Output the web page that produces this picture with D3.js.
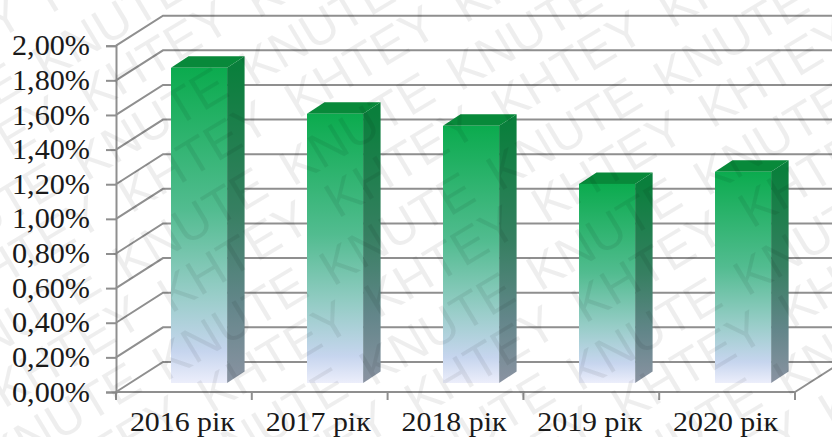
<!DOCTYPE html>
<html><head><meta charset="utf-8">
<script src="https://cdn.jsdelivr.net/npm/d3@7"></script>
<style>html,body{margin:0;padding:0;background:#fff}svg{display:block}</style>
</head><body><svg id="c" width="832" height="437"></svg>
<script>
const categories = ["2016 рік","2017 рік","2018 рік","2019 рік","2020 рік"];
const shares = [1.82,1.555,1.485,1.15,1.22];
const yTicks = [0,0.2,0.4,0.6,0.8,1.0,1.2,1.4,1.6,1.8,2.0];
const stampWords = ["KNUTE","KHTEY"];

const W=832,H=437;
const svg=d3.select("#c");
const x0=116,x1=795,yBase=392,yTop=45.7;
const wallDx=47,wallDy=-30, barInsetY=-9, sideDx=17.5, sideDy=-11.5;
const axisColor="#8f8f8f", labelFont="'Liberation Serif'";

// Band per year for the axis labels and a narrower band inside it for the columns
const xAxisBand=d3.scaleBand().domain(categories).range([x0,x1]);
const x=d3.scaleBand().domain(categories).range([130.2,811.9]).paddingInner(0.5876).paddingOuter(0.3);
const y=d3.scaleLinear().domain([0,2]).range([yBase,yTop]);
const bw=x.bandwidth();

const defs=svg.append("defs");
shares.forEach((v,i)=>{
  const top=y(v)+barInsetY, bot=yBase+barInsetY;
  const mk=(id,cs)=>{
    const g=defs.append("linearGradient").attr("id",id+i).attr("gradientUnits","userSpaceOnUse")
      .attr("x1",0).attr("x2",0).attr("y1",top).attr("y2",bot);
    cs.forEach(([o,c])=>g.append("stop").attr("offset",o).attr("stop-color",c));
  };
  mk("front",[[0,"#0bab4e"],[0.45,"#52bc90"],[0.72,"#98cdc8"],[0.9,"#c6d5ee"],[1,"#eceefb"]]);
  mk("side",[[0,"#0a7f3c"],[0.45,"#367f61"],[0.75,"#63868a"],[1,"#8a93a2"]]);
});

// Left and back walls: each gridline runs up the side wall and along the back
const grid=svg.append("g").attr("fill","none").attr("stroke",axisColor).attr("stroke-width",2);
yTicks.forEach(t=>{
  const yy=y(t);
  grid.append("path").attr("d",d3.line()([[x0,yy],[x0+wallDx,yy+wallDy],[W,yy+wallDy]]));
});
grid.append("path").attr("d",d3.line()([[x1,yBase],[x1+wallDx,yBase+wallDy]]));

// Value axis
const yAxis=d3.axisLeft(y).tickValues(yTicks).tickSizeOuter(0).tickSize(10).tickPadding(16)
  .tickFormat(d=>d.toFixed(2).replace(".",",")+"%");
const gy=svg.append("g").attr("transform",`translate(${x0},0)`).call(yAxis);
gy.selectAll(".domain,line").attr("stroke",axisColor).attr("stroke-width",2);
gy.selectAll("text").attr("font-family",labelFont).attr("font-size",28.5).attr("fill","#1a1a1a")
  .attr("textLength",78).attr("lengthAdjust","spacingAndGlyphs");

// Category axis
const xTickPos=d3.range(categories.length+1).map(i=>x0+i*xAxisBand.step());
const gx=svg.append("g");
gx.append("line").attr("x1",x0).attr("x2",x1).attr("y1",yBase).attr("y2",yBase).attr("stroke",axisColor).attr("stroke-width",2);
gx.selectAll("line.t").data(xTickPos).join("line").attr("class","t").attr("x1",d=>d).attr("x2",d=>d)
  .attr("y1",yBase).attr("y2",yBase+8).attr("stroke",axisColor).attr("stroke-width",2);
gx.selectAll("text").data(categories).join("text")
  .attr("x",d=>xAxisBand(d)+xAxisBand.bandwidth()/2-1.5).attr("y",431).attr("text-anchor","middle")
  .attr("font-family",labelFont).attr("font-size",27.5).attr("fill","#1a1a1a")
  .attr("textLength",105).attr("lengthAdjust","spacingAndGlyphs").text(d=>d);

// 3D columns: side, top, front
const bars=svg.append("g").selectAll("g").data(shares).join("g");
const bl=i=>x(categories[i]);
bars.append("path").attr("fill",(d,i)=>`url(#side${i})`).attr("d",(d,i)=>{
  const l=bl(i)+bw, t=y(d)+barInsetY, b=yBase+barInsetY;
  return d3.line()([[l,t],[l+sideDx,t+sideDy],[l+sideDx,b+sideDy],[l,b]])+"Z";
});
bars.append("path").attr("fill","#08893a").attr("d",(d,i)=>{
  const l=bl(i), t=y(d)+barInsetY;
  return d3.line()([[l,t],[l+sideDx,t+sideDy],[l+bw+sideDx,t+sideDy],[l+bw,t]])+"Z";
});
bars.append("rect").attr("x",(d,i)=>bl(i)).attr("width",bw)
  .attr("y",d=>y(d)+barInsetY).attr("height",d=>yBase-y(d)).attr("fill",(d,i)=>`url(#front${i})`);

// Diagonal institutional stamp laid over the whole chart
const stamp=svg.append("g").attr("font-family","'Liberation Sans'").attr("font-size",50)
  .attr("fill","#000").attr("fill-opacity",0.065);
const wordLen=170, cosA=Math.cos(31*Math.PI/180), sinA=Math.sin(31*Math.PI/180);
d3.range(-5,7).forEach(r=>{
  d3.range(-3,6).forEach(c=>{
    stampWords.forEach((word,k)=>{
      const px=253+(c-1)*207+(r-1)*40+k*45, py=87+(c-1)*5+(r-1)*100+k*32;
      const ex=px+wordLen*cosA, ey=py-wordLen*sinA;
      if(ex<0||px>W||py<0||ey>H) return;
      stamp.append("text").attr("transform",`translate(${px},${py}) rotate(-31)`).text(word);
    });
  });
});
</script></body></html>
